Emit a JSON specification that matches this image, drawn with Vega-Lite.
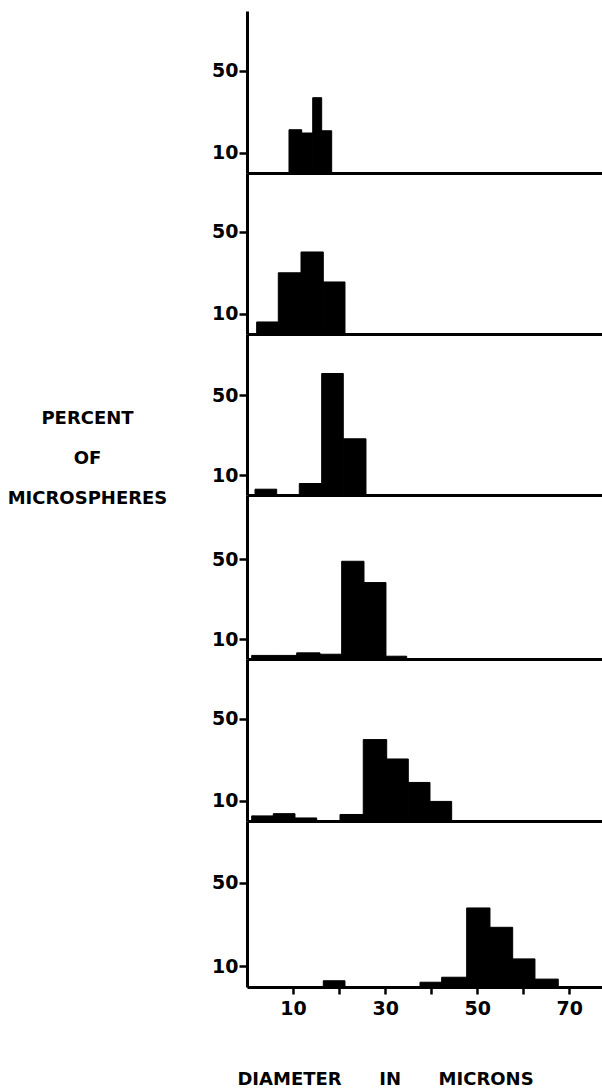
{
  "$schema": "https://vega.github.io/schema/vega-lite/v6.json",
  "padding": {"left": 7, "top": 11, "right": 0, "bottom": 0},
  "background": "white",
  "spacing": 0,
  "bounds": "flush",
  "datasets": {
    "bars": [
      {"panel": 1, "start": 9.12, "end": 11.88, "pct": 21.2},
      {"panel": 1, "start": 11.88, "end": 14.27, "pct": 19.6},
      {"panel": 1, "start": 14.27, "end": 16.22, "pct": 36.9},
      {"panel": 1, "start": 16.22, "end": 18.39, "pct": 20.7},
      {"panel": 2, "start": 2.1, "end": 6.8, "pct": 5.9},
      {"panel": 2, "start": 6.8, "end": 11.73, "pct": 30.0},
      {"panel": 2, "start": 11.73, "end": 16.57, "pct": 40.2},
      {"panel": 2, "start": 16.57, "end": 21.28, "pct": 25.5},
      {"panel": 3, "start": 1.74, "end": 6.45, "pct": 2.9},
      {"panel": 3, "start": 11.36, "end": 16.22, "pct": 5.75},
      {"panel": 3, "start": 16.22, "end": 20.91, "pct": 60.75},
      {"panel": 3, "start": 20.91, "end": 25.84, "pct": 28.1},
      {"panel": 4, "start": 1.02, "end": 6.08, "pct": 1.8},
      {"panel": 4, "start": 6.08, "end": 10.79, "pct": 1.8},
      {"panel": 4, "start": 10.79, "end": 15.85, "pct": 3.1},
      {"panel": 4, "start": 15.85, "end": 20.56, "pct": 2.4},
      {"panel": 4, "start": 20.56, "end": 25.41, "pct": 49.1},
      {"panel": 4, "start": 25.41, "end": 30.18, "pct": 38.4},
      {"panel": 4, "start": 30.18, "end": 34.68, "pct": 1.4},
      {"panel": 5, "start": 1.02, "end": 5.71, "pct": 2.5},
      {"panel": 5, "start": 5.71, "end": 10.42, "pct": 3.6},
      {"panel": 5, "start": 10.42, "end": 15.14, "pct": 1.5},
      {"panel": 5, "start": 20.2, "end": 25.25, "pct": 3.2},
      {"panel": 5, "start": 25.25, "end": 30.34, "pct": 39.9},
      {"panel": 5, "start": 30.34, "end": 35.03, "pct": 30.4},
      {"panel": 5, "start": 35.03, "end": 39.74, "pct": 18.9},
      {"panel": 5, "start": 39.74, "end": 44.45, "pct": 9.6},
      {"panel": 6, "start": 16.57, "end": 21.28, "pct": 3.0},
      {"panel": 6, "start": 37.57, "end": 42.28, "pct": 2.3},
      {"panel": 6, "start": 42.28, "end": 47.71, "pct": 4.7},
      {"panel": 6, "start": 47.71, "end": 52.77, "pct": 38.0},
      {"panel": 6, "start": 52.77, "end": 57.7, "pct": 28.7},
      {"panel": 6, "start": 57.7, "end": 62.54, "pct": 13.5},
      {"panel": 6, "start": 62.54, "end": 67.6, "pct": 3.8}
    ]
  },
  "vconcat": [
    {
      "width": 355, "height": 162,
      "data": {"name": "bars"},
      "transform": [{"filter": "datum.panel == 1"}],
      "mark": {"type": "rect", "color": "black", "stroke": "black", "strokeWidth": 1},
      "encoding": {
        "x": {"field": "start", "type": "quantitative", "scale": {"domain": [0, 77.1], "nice": false, "zero": false}, "axis": {"title": null, "labels": false, "ticks": false}},
        "x2": {"field": "end"},
        "y": {"field": "pct", "type": "quantitative", "scale": {"domain": [0, 79.4], "nice": false}, "axis": {"values": [10, 50], "title": null}},
        "y2": {"datum": 0}
      }
    },
    {
      "width": 355, "height": 161,
      "data": {"name": "bars"},
      "transform": [{"filter": "datum.panel == 2"}],
      "mark": {"type": "rect", "color": "black", "stroke": "black", "strokeWidth": 1},
      "encoding": {
        "x": {"field": "start", "type": "quantitative", "scale": {"domain": [0, 77.1], "nice": false, "zero": false}, "axis": {"title": null, "labels": false, "ticks": false}},
        "x2": {"field": "end"},
        "y": {"field": "pct", "type": "quantitative", "scale": {"domain": [0, 78.9], "nice": false}, "axis": {"values": [10, 50], "title": null}},
        "y2": {"datum": 0}
      }
    },
    {
      "width": 355, "height": 161,
      "data": {"name": "bars"},
      "transform": [{"filter": "datum.panel == 3"}],
      "mark": {"type": "rect", "color": "black", "stroke": "black", "strokeWidth": 1},
      "encoding": {
        "x": {"field": "start", "type": "quantitative", "scale": {"domain": [0, 77.1], "nice": false, "zero": false}, "axis": {"title": null, "labels": false, "ticks": false}},
        "x2": {"field": "end"},
        "y": {"field": "pct", "type": "quantitative", "scale": {"domain": [0, 80.5], "nice": false}, "axis": {"values": [10, 50], "title": ["PERCENT", "OF", "MICROSPHERES"], "titleAngle": 0, "titleX": -160, "titleY": 89, "titleAlign": "center", "titleBaseline": "alphabetic", "titleFontSize": 18, "titleLineHeight": 40}},
        "y2": {"datum": 0}
      }
    },
    {
      "width": 355, "height": 164,
      "data": {"name": "bars"},
      "transform": [{"filter": "datum.panel == 4"}],
      "mark": {"type": "rect", "color": "black", "stroke": "black", "strokeWidth": 1},
      "encoding": {
        "x": {"field": "start", "type": "quantitative", "scale": {"domain": [0, 77.1], "nice": false, "zero": false}, "axis": {"title": null, "labels": false, "ticks": false}},
        "x2": {"field": "end"},
        "y": {"field": "pct", "type": "quantitative", "scale": {"domain": [0, 82.4], "nice": false}, "axis": {"values": [10, 50], "title": null}},
        "y2": {"datum": 0}
      }
    },
    {
      "width": 355, "height": 162,
      "data": {"name": "bars"},
      "transform": [{"filter": "datum.panel == 5"}],
      "mark": {"type": "rect", "color": "black", "stroke": "black", "strokeWidth": 1},
      "encoding": {
        "x": {"field": "start", "type": "quantitative", "scale": {"domain": [0, 77.1], "nice": false, "zero": false}, "axis": {"title": null, "labels": false, "ticks": false}},
        "x2": {"field": "end"},
        "y": {"field": "pct", "type": "quantitative", "scale": {"domain": [0, 79.4], "nice": false}, "axis": {"values": [10, 50], "title": null}},
        "y2": {"datum": 0}
      }
    },
    {
      "width": 355, "height": 166,
      "data": {"name": "bars"},
      "transform": [{"filter": "datum.panel == 6"}],
      "mark": {"type": "rect", "color": "black", "stroke": "black", "strokeWidth": 1},
      "encoding": {
        "x": {"field": "start", "type": "quantitative", "scale": {"domain": [0, 77.1], "nice": false, "zero": false}, "axis": {"values": [10, 20, 30, 40, 50, 60, 70], "tickSize": 7, "labelExpr": "(datum.value == 10 || datum.value == 30 || datum.value == 50 || datum.value == 70) ? datum.label : ''", "labelFontSize": 19, "labelPadding": 5, "labelOverlap": false, "labelFlush": false, "title": "DIAMETER\u00a0\u00a0\u00a0\u00a0\u00a0\u00a0IN\u00a0\u00a0\u00a0\u00a0\u00a0\u00a0MICRONS", "titleX": 138, "titleY": 97, "titleAlign": "center", "titleBaseline": "alphabetic", "titleFontSize": 18}},
        "x2": {"field": "end"},
        "y": {"field": "pct", "type": "quantitative", "scale": {"domain": [0, 79.8], "nice": false}, "axis": {"values": [10, 50], "title": null}},
        "y2": {"datum": 0}
      }
    }
  ],
  "config": {
    "view": {"stroke": null},
    "axis": {
      "grid": false,
      "domainColor": "black",
      "domainWidth": 3,
      "tickColor": "black",
      "tickWidth": 2.5,
      "labelFont": "DejaVu Sans",
      "labelFontWeight": "bold",
      "labelColor": "black",
      "titleFont": "DejaVu Sans",
      "titleFontWeight": "bold",
      "titleColor": "black"
    },
    "axisY": {"tickSize": 8, "labelFontSize": 19, "labelPadding": 1}
  }
}
